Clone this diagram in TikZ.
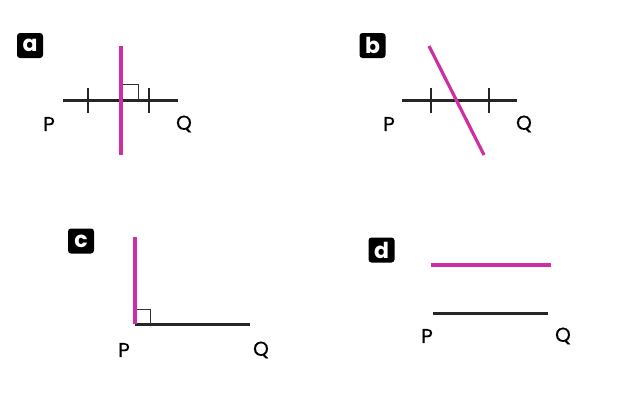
\documentclass[tikz,border=0pt]{standalone}
\usepackage{fontspec}
\setmainfont{Poppins}
\newfontfamily\labfont[FakeBold=0.6]{Poppins}
\usepackage{tikz}
\usepackage{xcolor}
\definecolor{pink}{RGB}{206,46,163}

\begin{document}
\begin{tikzpicture}[x=1pt,y=-1pt]
	\tikzstyle{seg} = [draw=black!85, line width=3]
	\tikzstyle{perp} = [draw=pink, line width=3.2]
	\tikzstyle{tick} = [draw=black!85, line width=1.6]
	\tikzstyle{rt} = [draw=black!80, line width=0.8]
	\tikzstyle{pt} = [inner sep=0pt, font=\labfont\fontsize{20}{20}\selectfont]
	\tikzstyle{tag} = [fill=black, text=white, rounded corners=3pt, minimum width=26, minimum height=25, inner sep=0pt, font=\bfseries\fontsize{22}{22}\selectfont]
	\useasboundingbox (0,0) rectangle (640,402);
	% a
		\node[tag] (ta) at (30,45.5) {a};
		\node[] (a1) at (63,100) {};
		\node[] (a2) at (178,100) {};
		\node[] (a3) at (121,46) {};
		\node[] (a4) at (121,155) {};
		\node[pt] (aP) at (49,124) {P};
		\node[pt] (aQ) at (184,124) {Q};
	\draw[seg] (a1.center) -- (a2.center);
	\draw[tick] (88,88) -- (88,113);
	\draw[tick] (149,88) -- (149,113);
	\draw[rt] (121,84) -- (138,84) -- (138,100);
	\draw[perp] (a3.center) -- (a4.center);
	% b
		\node[tag] (tb) at (372.5,45.5) {b};
		\node[] (b1) at (402,100) {};
		\node[] (b2) at (517,100) {};
		\node[] (b3) at (429,46) {};
		\node[] (b4) at (484,155) {};
		\node[pt] (bP) at (389,124) {P};
		\node[pt] (bQ) at (524,124) {Q};
	\draw[seg] (b1.center) -- (b2.center);
	\draw[tick] (431,88) -- (431,113);
	\draw[tick] (489,88) -- (489,113);
	\draw[perp] (b3.center) -- (b4.center);
	% c
		\node[tag] (tc) at (81,241) {c};
		\node[] (c1) at (135,324) {};
		\node[] (c2) at (250,324) {};
		\node[] (c3) at (135,237) {};
		\node[pt] (cP) at (124,350) {P};
		\node[pt] (cQ) at (261,350) {Q};
	\draw[seg] (c1.center) -- (c2.center);
	\draw[rt] (135,309) -- (150,309) -- (150,324);
	\draw[perp] (c3.center) -- (c1.center);
	% d
		\node[tag] (td) at (381.5,250) {d};
		\node[] (d1) at (433,313) {};
		\node[] (d2) at (548,313) {};
		\node[] (d3) at (431,265) {};
		\node[] (d4) at (551,265) {};
		\node[pt] (dP) at (427,336) {P};
		\node[pt] (dQ) at (563,336) {Q};
	\draw[seg] (d1.center) -- (d2.center);
	\draw[perp] (d3.center) -- (d4.center);
	\end{tikzpicture}
\end{document}
